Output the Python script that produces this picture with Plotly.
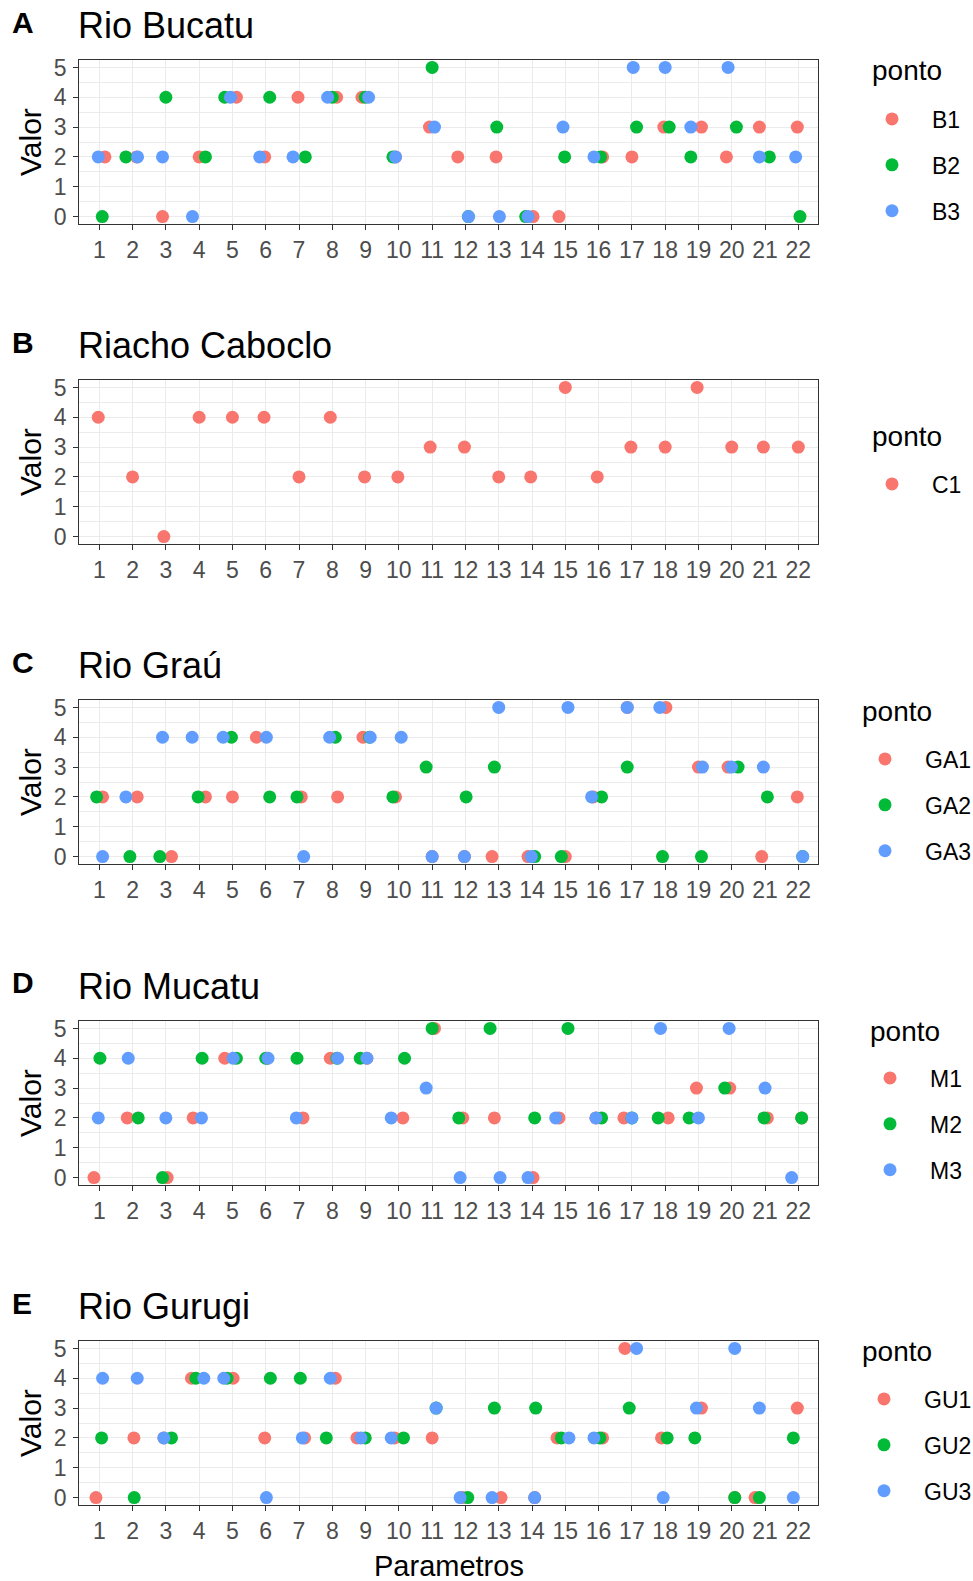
import plotly.graph_objects as go

# ---------------- data ----------------
params = list(range(1, 23))
x_tick_labels = [str(p) for p in params]
y_ticks = [0, 1, 2, 3, 4, 5]

panel_letters = ["A", "B", "C", "D", "E"]
panel_titles = ["Rio Bucatu", "Riacho Caboclo", "Rio Graú", "Rio Mucatu", "Rio Gurugi"]

# Panel A - Rio Bucatu
A_names = ["B1", "B2", "B3"]
A_B1 = [2, 2, 0, 2, 4, 2, 4, 4, 4, 2, 3, 2, 2, 0, 0, 2, 2, 3, 3, 2, 3, 3]
A_B1_jit = [0.17, 0.12, -0.1, 0, 0.12, -0.03, -0.03, 0.13, -0.11, -0.1, -0.08, -0.23, -0.08, 0.03, -0.19, 0.12, 0, -0.04, 0.09, -0.16, -0.17, -0.03]
A_B2 = [0, 2, 4, 2, 4, 4, 2, 4, 4, 2, 5, 0, 3, 0, 2, 2, 3, 3, 2, 3, 2, 0]
A_B2_jit = [0.09, -0.2, 0, 0.19, -0.23, 0.12, 0.19, 0, -0.01, -0.18, 0, 0.09, -0.06, -0.19, -0.02, 0.06, 0.14, 0.12, -0.23, 0.14, 0.13, 0.05]
A_B3 = [2, 2, 2, 0, 4, 2, 2, 4, 4, 2, 3, 0, 0, 0, 3, 2, 5, 5, 3, 5, 2, 2]
A_B3_jit = [-0.03, 0.15, -0.1, -0.2, -0.06, -0.18, -0.18, -0.14, 0.09, -0.1, 0.07, 0.09, 0.02, -0.12, -0.07, -0.14, 0.04, 0, -0.23, -0.11, -0.17, -0.08]

# Panel B - Riacho Caboclo
B_names = ["C1"]
B_C1 = [4, 2, 0, 4, 4, 4, 2, 4, 2, 2, 3, 3, 2, 2, 5, 2, 3, 3, 5, 3, 3, 3]
B_C1_jit = [-0.03, 0, -0.06, 0, 0, -0.05, 0, -0.06, -0.03, -0.03, -0.06, -0.03, 0, -0.04, 0, -0.04, -0.03, 0, -0.04, 0, -0.05, 0]

# Panel C - Rio Graú
C_names = ["GA1", "GA2", "GA3"]
C_GA1 = [2, 2, 0, 2, 2, 4, 2, 2, 4, 2, 0, 0, 0, 0, 0, 2, 5, 5, 3, 3, 0, 2]
C_GA1_jit = [0.1, 0.14, 0.17, 0.19, 0, -0.28, 0.07, 0.16, -0.08, -0.1, 0, -0.03, -0.2, -0.12, 0, -0.16, -0.14, 0.02, 0, -0.11, -0.1, -0.03]
C_GA2 = [2, 0, 0, 2, 4, 2, 2, 4, 4, 2, 3, 2, 3, 0, 0, 2, 3, 0, 0, 3, 2, 0]
C_GA2_jit = [-0.08, -0.08, -0.18, -0.03, -0.03, 0.12, -0.06, 0.09, 0.12, -0.18, -0.18, 0.02, -0.13, 0.08, -0.12, 0.09, -0.14, -0.08, 0.09, 0.19, 0.07, 0.13]
C_GA3 = [0, 2, 4, 4, 4, 4, 0, 4, 4, 4, 0, 0, 5, 0, 5, 2, 5, 5, 3, 3, 3, 0]
C_GA3_jit = [0.1, -0.2, -0.1, -0.21, -0.28, 0.02, 0.14, -0.08, 0.14, 0.07, 0, -0.03, 0, -0.02, 0.08, -0.21, -0.14, -0.16, 0.12, -0.01, -0.05, 0.13]

# Panel D - Rio Mucatu
D_names = ["M1", "M2", "M3"]
D_M1 = [0, 2, 0, 2, 4, 4, 2, 4, 4, 2, 5, 2, 2, 0, 2, 2, 2, 2, 3, 3, 2, 2]
D_M1_jit = [-0.16, -0.16, 0.04, -0.18, -0.23, 0.05, 0.12, -0.06, 0.04, 0.12, 0.07, -0.08, -0.13, 0.03, -0.19, -0.08, -0.24, 0.09, -0.06, -0.06, 0.07, 0.1]
D_M2 = [4, 2, 0, 4, 4, 4, 4, 4, 4, 4, 5, 2, 5, 2, 5, 2, 2, 2, 2, 3, 2, 2]
D_M2_jit = [0.02, 0.17, -0.1, 0.09, 0.12, 0, -0.06, 0.14, -0.16, 0.17, 0, -0.2, -0.26, 0.08, 0.08, 0.09, 0, -0.21, -0.28, -0.21, -0.03, 0.1]
D_M3 = [2, 4, 2, 2, 4, 4, 2, 4, 4, 2, 3, 0, 0, 0, 2, 2, 2, 5, 2, 5, 3, 0]
D_M3_jit = [-0.03, -0.13, 0, 0.07, 0.02, 0.07, -0.08, 0.16, 0.04, -0.23, -0.18, -0.16, 0.04, -0.12, -0.29, -0.08, 0, -0.14, 0, -0.08, 0, -0.2]

# Panel E - Rio Gurugi
E_names = ["GU1", "GU2", "GU3"]
E_GU1 = [0, 2, 2, 4, 4, 2, 2, 4, 2, 2, 2, 0, 0, 0, 2, 2, 5, 2, 3, 0, 0, 3]
E_GU1_jit = [-0.1, 0.04, -0.06, -0.23, 0.02, -0.03, 0.17, 0.09, -0.26, -0.13, 0, -0.08, 0.07, 0.08, -0.25, 0.12, -0.21, -0.11, 0.09, 0.09, -0.3, -0.03]
E_GU2 = [2, 0, 2, 4, 4, 4, 4, 2, 2, 2, 3, 0, 3, 3, 2, 2, 3, 2, 2, 0, 0, 2]
E_GU2_jit = [0.07, 0.05, 0.17, -0.1, -0.16, 0.14, 0.04, -0.18, -0.01, 0.14, 0.12, 0.07, -0.13, 0.11, -0.12, 0.04, -0.08, 0.06, -0.11, 0.09, -0.17, -0.15]
E_GU3 = [4, 4, 2, 4, 4, 0, 2, 4, 2, 2, 3, 0, 0, 0, 2, 2, 5, 0, 3, 5, 3, 0]
E_GU3_jit = [0.1, 0.14, -0.06, 0.14, -0.26, 0.02, 0.1, -0.06, -0.14, -0.23, 0.12, -0.16, -0.2, 0.08, 0.11, -0.14, 0.14, -0.06, -0.06, 0.09, -0.17, -0.15]

# ---------------- style / layout ----------------
W, H = 973, 1581
FONT = "Liberation Sans, Arial, sans-serif"
colors3 = ["#F8766D", "#00BA38", "#619CFF"]

panels = [
    (A_names, [(A_B1, A_B1_jit), (A_B2, A_B2_jit), (A_B3, A_B3_jit)]),
    (B_names, [(B_C1, B_C1_jit)]),
    (C_names, [(C_GA1, C_GA1_jit), (C_GA2, C_GA2_jit), (C_GA3, C_GA3_jit)]),
    (D_names, [(D_M1, D_M1_jit), (D_M2, D_M2_jit), (D_M3, D_M3_jit)]),
    (E_names, [(E_GU1, E_GU1_jit), (E_GU2, E_GU2_jit), (E_GU3, E_GU3_jit)]),
]

plot_left, plot_right = 79.3, 818.3
plot_tops = [60, 380, 700, 1021, 1341]
plot_h = 164
# legend geometry (px): title-left, title-y, marker-x, middle item y
legend_geo = [
    (872, 70, 892, 165),
    (872, 436, 892, 484),
    (862, 711, 885, 805),
    (870, 1031, 890, 1124),
    (862, 1351, 884, 1445),
]

fig = go.Figure()
layout = dict(
    width=W, height=H,
    margin=dict(l=0, r=0, t=0, b=0, autoexpand=False),
    paper_bgcolor="white", plot_bgcolor="white",
    font=dict(family=FONT, color="black"),
    showlegend=True,
)
annotations = []

for i, (names, series) in enumerate(panels):
    k = i + 1
    xa = "x" if k == 1 else f"x{k}"
    ya = "y" if k == 1 else f"y{k}"
    leg = "legend" if k == 1 else f"legend{k}"
    for j, (name, (vals, jit)) in enumerate(zip(names, series)):
        fig.add_trace(go.Scatter(
            x=[p + d for p, d in zip(params, jit)], y=vals,
            mode="markers", name=name,
            marker=dict(color=colors3[j], size=13, line=dict(width=0)),
            xaxis=xa, yaxis=ya, legend=leg, legendgroup=f"{k}_{name}",
        ))
    top = plot_tops[i]
    bot = top + plot_h
    layout[f"xaxis{'' if k == 1 else k}"] = dict(
        domain=[plot_left / W, plot_right / W], anchor=ya,
        range=[0.4, 22.6], tickmode="array", tickvals=params, ticktext=x_tick_labels,
        showgrid=True, gridcolor="#EBEBEB", gridwidth=1.3,
        showline=True, mirror=True, linecolor="#333333", linewidth=1.3,
        ticks="outside", ticklen=5, tickwidth=1.3, tickcolor="#333333",
        tickfont=dict(size=23, color="#4D4D4D", family=FONT),
        zeroline=False, fixedrange=True, automargin=False,
    )
    layout[f"yaxis{'' if k == 1 else k}"] = dict(
        domain=[1 - bot / H, 1 - top / H], anchor=xa,
        range=[-0.25, 5.25], tickmode="array", tickvals=y_ticks,
        showgrid=True, gridcolor="#EBEBEB", gridwidth=1.3,
        minor=dict(dtick=0.5, tick0=0.5, showgrid=True, gridcolor="#EBEBEB", gridwidth=0.7, ticks=""),
        showline=True, mirror=True, linecolor="#333333", linewidth=1.3,
        ticks="outside", ticklen=5, tickwidth=1.3, tickcolor="#333333",
        tickfont=dict(size=23, color="#4D4D4D", family=FONT),
        ticklabelstandoff=2,
        zeroline=False, fixedrange=True, automargin=False,
    )
    tl, ty, mx, my = legend_geo[i]
    layout[leg] = dict(
        x=(mx - 40) / W, xanchor="left", y=1 - my / H, yanchor="middle",
        font=dict(size=23, color="black", family=FONT),
        itemwidth=70, tracegroupgap=13, traceorder="grouped",
        bgcolor="rgba(0,0,0,0)", borderwidth=0, itemclick=False, itemdoubleclick=False,
    )
    annotations.append(dict(text="ponto", x=(tl - 2) / W, y=1 - ty / H, xref="paper", yref="paper",
                            xanchor="left", yanchor="middle", showarrow=False,
                            font=dict(size=28, color="black", family=FONT)))
    annotations.append(dict(text=f"<b>{panel_letters[i]}</b>", x=10 / W, y=1 - (top - 38) / H,
                            xref="paper", yref="paper", xanchor="left", yanchor="middle",
                            showarrow=False, font=dict(size=30, color="black", family=FONT)))
    annotations.append(dict(text=panel_titles[i], x=(plot_left - 3) / W, y=1 - (top - 35) / H,
                            xref="paper", yref="paper", xanchor="left", yanchor="middle",
                            showarrow=False, font=dict(size=36, color="black", family=FONT)))
    annotations.append(dict(text="Valor", x=30 / W, y=1 - (top + plot_h / 2) / H,
                            xref="paper", yref="paper", xanchor="center", yanchor="middle",
                            textangle=-90, showarrow=False,
                            font=dict(size=30, color="black", family=FONT)))

annotations.append(dict(text="Parametros", x=(plot_left + plot_right) / 2 / W, y=1 - 1566 / H,
                        xref="paper", yref="paper", xanchor="center", yanchor="middle",
                        showarrow=False, font=dict(size=29, color="black", family=FONT)))
layout["annotations"] = annotations
fig.update_layout(**layout)

fig.write_html("out.html", config={"displayModeBar": False},
               post_script="document.documentElement.style.margin='0';document.body.style.margin='0';document.body.style.overflow='hidden';")
